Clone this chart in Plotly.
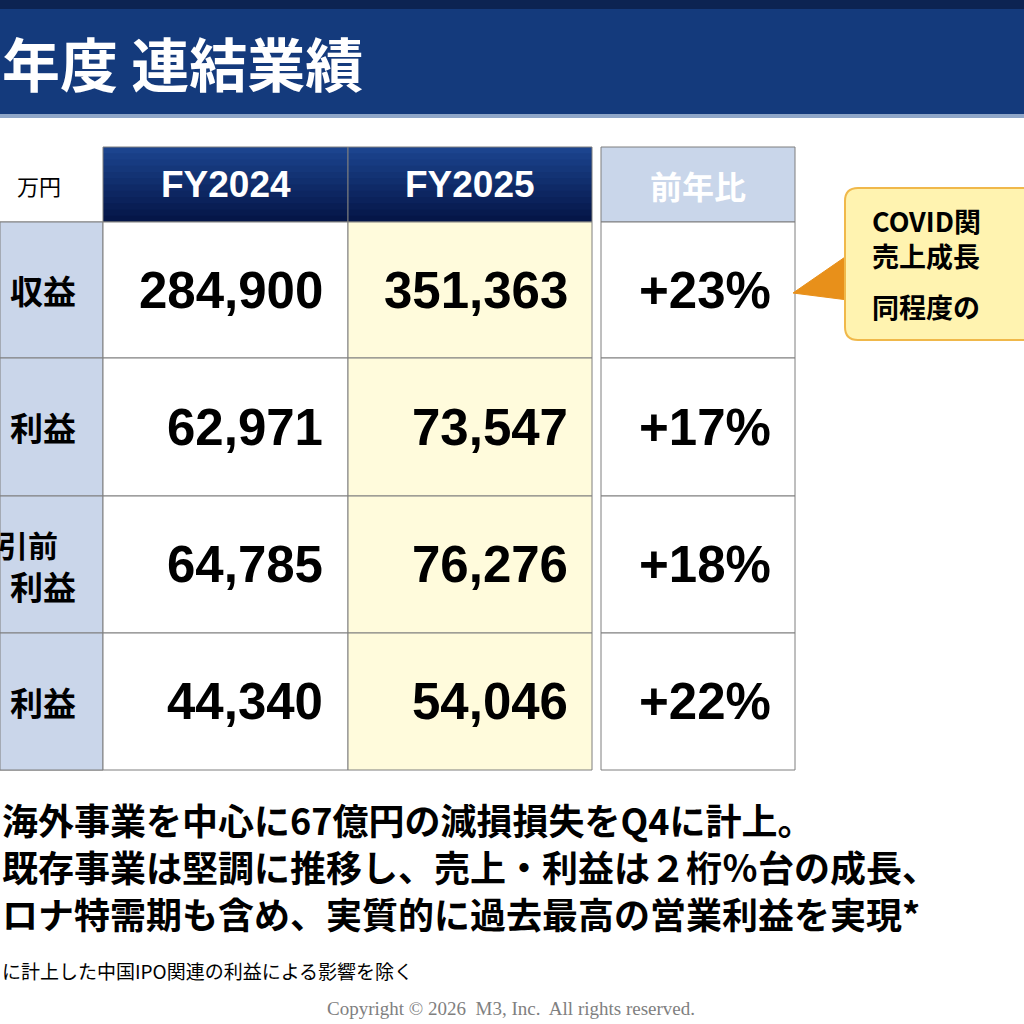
import plotly.graph_objects as go

# data
years = ["FY2024", "FY2025"]
yoy_header = "前年比"
unit_label = "万円"
row_labels = [["収益"], ["利益"], ["引前", "利益"], ["利益"]]
fy2024 = [284900, 62971, 64785, 44340]
fy2025 = [351363, 73547, 76276, 54046]
yoy = ["+23%", "+17%", "+18%", "+22%"]
title = "年度 連結業績"
callout_lines = ["COVID関", "売上成長", "同程度の"]
notes = ["海外事業を中心に67億円の減損損失をQ4に計上。",
         "既存事業は堅調に推移し、売上・利益は２桁％台の成長、",
         "ロナ特需期も含め、実質的に過去最高の営業利益を実現*"]
footnote = "に計上した中国IPO関連の利益による影響を除く"
copyright_txt = "Copyright © 2026  M3, Inc.  All rights reserved."

W = 1024
JP = "Noto Sans CJK JP"
NUM = "Liberation Sans"

fig = go.Figure()
shapes, ann = [], []

def rect(x0, y0, x1, y1, fill, line="#7f7f7f", lw=1):
    shapes.append(dict(type="rect", x0=x0, y0=y0, x1=x1, y1=y1, fillcolor=fill,
                       line=dict(color=line, width=lw), layer="below"))

def text(x, y, s, size, color="black", font=JP, anchor="left", bold=True):
    ann.append(dict(x=x / W, y=1 - y / W, xref="paper", yref="paper", text=f"<b>{s}</b>" if bold else s,
                    showarrow=False, xanchor=anchor, yanchor="middle", align=anchor if anchor != "center" else "center",
                    font=dict(size=size, color=color, family=font)))

# title bar
rect(0, 0, W, 10, "#0c2352", line="#0c2352", lw=0)
rect(0, 9, W, 116, "#143a7c", line="#143a7c", lw=0)
rect(0, 114, W, 118, "#8fa6c8", line="#8fa6c8", lw=0)
text(0, 62, title, 58, color="white")

# table geometry
cols = [0, 103, 348, 592]
yoy_x = (601, 795)
head = (147, 222)
rows = [222, 358, 496, 633, 770]

rect(cols[0], rows[0], cols[1], rows[-1], "#cad6ea")
n = 12
for i, yr in enumerate(years):
    x0, x1 = cols[i + 1], cols[i + 2]
    for k in range(n):
        ya = head[0] + k * (head[1] - head[0]) / n
        yb = head[0] + (k + 1) * (head[1] - head[0]) / n + 1.5
        t = k / (n - 1)
        c = (int(0x1c + (0x05 - 0x1c) * t), int(0x44 + (0x16 - 0x44) * t), int(0x8e + (0x48 - 0x8e) * t))
        rect(x0, ya, x1, min(yb, head[1]), f"rgb{c}", line=f"rgb{c}", lw=0)
    rect(x0, head[0], x1, head[1], "rgba(0,0,0,0)")
    text((x0 + x1) / 2, (head[0] + head[1]) / 2, yr, 37, color="white", font=NUM, anchor="center")
rect(yoy_x[0], head[0], yoy_x[1], head[1], "#c9d6ea")
text((yoy_x[0] + yoy_x[1]) / 2, (head[0] + head[1]) / 2, yoy_header, 32, color="white", anchor="center")
text(63, 185, unit_label, 22, anchor="right", bold=False)

for r in range(len(fy2024)):
    y0, y1 = rows[r], rows[r + 1]
    ym = (y0 + y1) / 2
    rect(cols[0], y0, cols[1], y1, "#cad6ea")
    rect(cols[1], y0, cols[2], y1, "white")
    rect(cols[2], y0, cols[3], y1, "#fffbdc")
    rect(yoy_x[0], y0, yoy_x[1], y1, "white")
    labels = row_labels[r]
    if len(labels) == 1:
        text(78, ym, labels[0], 33, anchor="right")
    else:
        text(60, ym - 21, labels[0], 30, anchor="right")
        text(78, ym + 21, labels[1], 33, anchor="right")
    text(325, ym, f"{fy2024[r]:,}", 51, font=NUM, anchor="right")
    text(570, ym, f"{fy2025[r]:,}", 51, font=NUM, anchor="right")
    text(773, ym, yoy[r], 51, font=NUM, anchor="right")

# callout
shapes.append(dict(type="path", path="M 848 255 L 793 293 L 848 300 Z",
                   fillcolor="#e8901a", line=dict(color="#e8901a", width=1)))
shapes.append(dict(type="path",
                   path="M 858 188 L 1040 188 L 1040 340 L 858 340 Q 845 340 845 327 L 845 201 Q 845 188 858 188 Z",
                   fillcolor="#fff3b0", line=dict(color="#f0b84a", width=2)))
text(870, 238, "<br>".join(callout_lines[:2]), 27)
text(870, 306, callout_lines[2], 27)

# notes
text(0, 866, "<br>".join(notes), 36)
text(0, 970, footnote, 19, bold=False)
text(511, 1008, copyright_txt, 19, color="#808080", font="Liberation Serif", anchor="center", bold=False)

fig.update_layout(width=W, height=W, margin=dict(l=0, r=0, t=0, b=0),
                  paper_bgcolor="white", plot_bgcolor="white", showlegend=False,
                  xaxis=dict(range=[0, W], visible=False, fixedrange=True),
                  yaxis=dict(range=[W, 0], visible=False, fixedrange=True),
                  shapes=shapes, annotations=ann)
fig.write_html("out.html", config={"displayModeBar": False},
               post_script="document.body.style.margin='0';")
